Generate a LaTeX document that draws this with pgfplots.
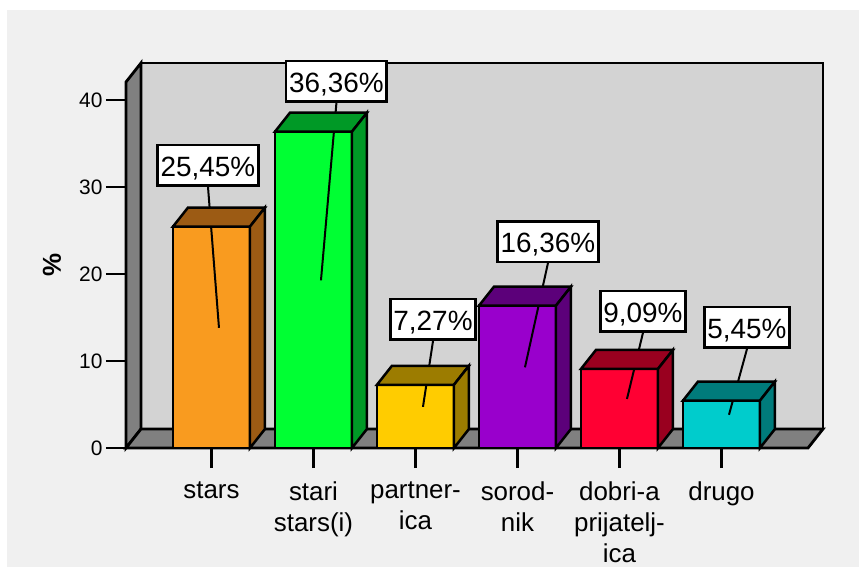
\documentclass[border=0pt]{standalone}
\usepackage{fontspec}
\setmainfont{Liberation Sans}
\usepackage{pgfplots}
\pgfplotsset{compat=1.18}
\definecolor{bgout}{HTML}{F0F0F0}
\definecolor{wallback}{HTML}{D3D3D3}
\definecolor{wallside}{HTML}{808080}
\definecolor{c1}{HTML}{F99B1F}\definecolor{c1d}{HTML}{9C5B14}
\definecolor{c2}{HTML}{00FF33}\definecolor{c2d}{HTML}{009926}
\definecolor{c3}{HTML}{FFCC00}\definecolor{c3d}{HTML}{9C7C00}
\definecolor{c4}{HTML}{9900CC}\definecolor{c4d}{HTML}{5C007A}
\definecolor{c5}{HTML}{FF0033}\definecolor{c5d}{HTML}{99001F}
\definecolor{c6}{HTML}{00CCCC}\definecolor{c6d}{HTML}{007B7B}
% 3D cap (top and side faces) drawn at the top-centre of each bar
\pgfdeclareplotmark{box3d}{%
  \pgfmathsetlengthmacro\hh{\val*8.7bp}%
  \pgfpathmoveto{\pgfpoint{-38.5bp}{0bp}}%
  \pgfpathlineto{\pgfpoint{38.5bp}{0bp}}%
  \pgfpathlineto{\pgfpoint{53.5bp}{19bp}}%
  \pgfpathlineto{\pgfpoint{-23.5bp}{19bp}}%
  \pgfpathclose
  \pgfusepathqfillstroke
  \pgfpathmoveto{\pgfpoint{38.5bp}{0bp}}%
  \pgfpathlineto{\pgfpoint{53.5bp}{19bp}}%
  \pgfpathlineto{\pgfpoint{53.5bp}{19bp-\hh}}%
  \pgfpathlineto{\pgfpoint{38.5bp}{-\hh}}%
  \pgfpathclose
  \pgfusepathqfillstroke
}
\pgfplotsset{
  bar3d/.style={ybar, bar width=77bp, bar shift=0pt, fill=#1, draw=black,
    line width=2.5bp, mark=box3d,
    mark options={fill=#1d, draw=black, line width=2.5bp, solid},
    visualization depends on={y \as \val}},
}
\tikzset{lbl/.style={draw=black, fill=white, line width=2.5bp,
    font=\fontsize{28}{33}\selectfont, inner xsep=3bp, inner ysep=9.25bp,
    text height=22bp, text depth=0bp, anchor=south}}
\begin{document}
\begin{tikzpicture}[line join=miter]
\path[use as bounding box, fill=white] (-126bp,-119bp) rectangle (733bp,448bp);
\fill[bgout] (-119bp,-119bp) rectangle (733bp,438bp);
% walls
\filldraw[fill=wallback, line width=2.8bp] (15bp,19bp) rectangle (697bp,385bp);
\filldraw[fill=wallside, line width=2.8bp] (0bp,0bp) -- (15bp,19bp) -- (15bp,385bp) -- (0bp,366bp) -- cycle;
\filldraw[fill=wallside, line width=2.8bp] (0bp,0bp) -- (682bp,0bp) -- (697bp,19bp) -- (15bp,19bp) -- cycle;
\begin{axis}[
  at={(0,0)}, anchor=south west,
  x=102bp, y=8.7bp,
  xmin=-0.838, xmax=5.848, ymin=0, ymax=42.07,
  clip=false,
  axis line style={draw=none},
  xtick={0,1,2,3,4,5},
  xticklabels={stars,{stari\\stars(i)},{partner-\\ica},{sorod-\\nik},{dobri-a\\prijatelj-\\ica},drugo},
  ytick={0,10,20,30,40},
  xtick pos=left, ytick pos=left,
  tick align=outside,
  major tick length=20bp,
  minor tick num=0,
  tick style={line width=2.5bp, black},
  /pgf/number format/assume math mode=true,
  yticklabel style={font=\fontsize{21}{24}\selectfont},
  xticklabel style={font=\fontsize{26}{31}\selectfont, align=center, yshift=-10bp},
]
\addplot[bar3d=c1] coordinates {(0,25.45)};
\addplot[bar3d=c2] coordinates {(1,36.36)};
\addplot[bar3d=c3] coordinates {(2,7.27)};
\addplot[bar3d=c4] coordinates {(3,16.36)};
\addplot[bar3d=c5] coordinates {(4,9.09)};
\addplot[bar3d=c6] coordinates {(5,5.45)};
% data labels with leader lines
\draw[line width=2bp] (axis cs:-0.034,30.0) -- ([shift={(7.5bp,9.5bp)}]axis cs:0,12.725);
\node[lbl] at (axis cs:-0.034,30.0) {25,45\%};
\draw[line width=2bp] (axis cs:1.225,39.66) -- ([shift={(7.5bp,9.5bp)}]axis cs:1,18.18);
\node[lbl] at (axis cs:1.225,39.66) {36,36\%};
\draw[line width=2bp] (axis cs:2.172,12.30) -- ([shift={(7.5bp,9.5bp)}]axis cs:2,3.635);
\node[lbl] at (axis cs:2.172,12.30) {7,27\%};
\draw[line width=2bp] (axis cs:3.299,21.26) -- ([shift={(7.5bp,9.5bp)}]axis cs:3,8.18);
\node[lbl] at (axis cs:3.299,21.26) {16,36\%};
\draw[line width=2bp] (axis cs:4.230,13.22) -- ([shift={(7.5bp,9.5bp)}]axis cs:4,4.545);
\node[lbl] at (axis cs:4.230,13.22) {9,09\%};
\draw[line width=2bp] (axis cs:5.25,11.38) -- ([shift={(7.5bp,9.5bp)}]axis cs:5,2.725);
\node[lbl] at (axis cs:5.25,11.38) {5,45\%};
\end{axis}
\node[rotate=90, font=\fontsize{26}{30}\selectfont\bfseries] at (-74bp,183bp) {\%};
\end{tikzpicture}
\end{document}
